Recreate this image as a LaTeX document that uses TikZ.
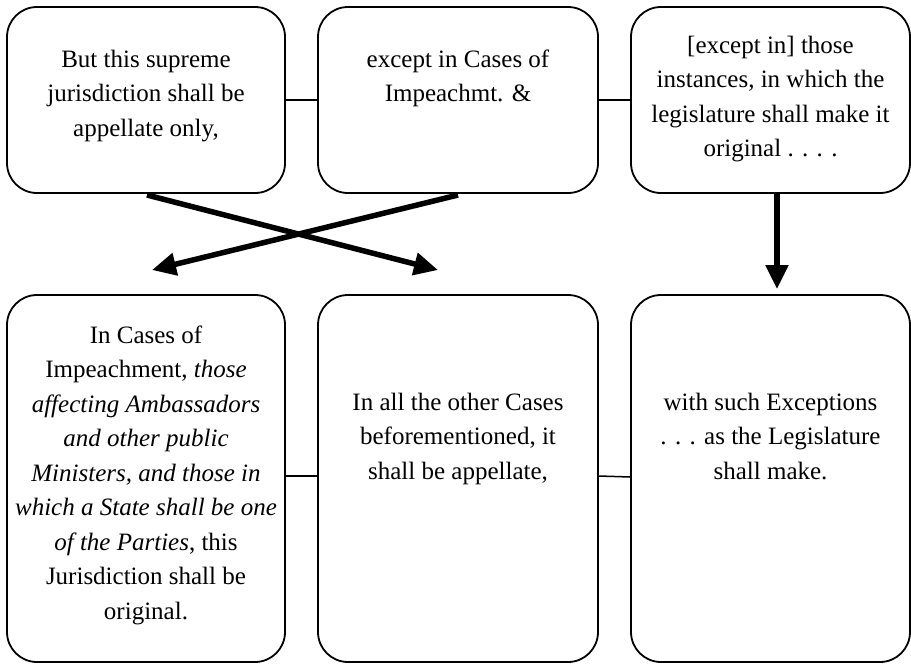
\documentclass[tikz,border=0pt]{standalone}
\usepackage{fontspec}
\setmainfont{Liberation Serif}
\usetikzlibrary{arrows.meta}
\tikzset{
  box/.style={draw=black, line width=1.8pt, rounded corners=30pt, fill=white, inner sep=0pt},
  txt/.style={align=center, anchor=north, inner sep=0pt, font=\fontsize{25}{34.5}\selectfont},
  link/.style={draw=black, line width=1.5pt},
  bigarrow/.style={draw=black, line width=5.5pt, -{Triangle[length=24pt,width=22pt]}}
}
\newcommand{\fs}{\rule{0pt}{20pt}}
\begin{document}
\begin{tikzpicture}[x=1pt,y=-1pt]
\useasboundingbox (0,0) rectangle (911,667);
% boxes
\node[box, minimum width=278pt, minimum height=186pt] (b1) at (146,100) {};
\node[box, minimum width=280pt, minimum height=186pt] (b2) at (458,100) {};
\node[box, minimum width=279pt, minimum height=186pt] (b3) at (770.5,100) {};
\node[box, minimum width=278pt, minimum height=367pt] (b4) at (146,478.5) {};
\node[box, minimum width=280pt, minimum height=367pt] (b5) at (458,478.5) {};
\node[box, minimum width=279pt, minimum height=367pt] (b6) at (770.5,478.5) {};
% texts
\node[txt] (t1) at (146,47) {\fs But this supreme\\jurisdiction shall be\\appellate only,};
\node[txt] (t2) at (458,47) {\fs except in Cases of\\Impeachmt. \&};
\node[txt] (t3) at (770.5,33) {\fs [except in] those\\instances, in which the\\legislature shall make it\\original . . . .};
\node[txt] (t4) at (146,323) {\fs In Cases of\\Impeachment, \textit{those}\\\textit{affecting Ambassadors}\\\textit{and other public}\\\textit{Ministers, and those in}\\\textit{which a State shall be one}\\\textit{of the Parties}, this\\Jurisdiction shall be\\original.};
\node[txt] (t5) at (458,390) {\fs In all the other Cases\\beforementioned, it\\shall be appellate,};
\node[txt] (t6) at (770.5,390) {\fs with such Exceptions\\. . . as the Legislature\\shall make.};
% connectors
\draw[link] (b1.east) -- (b2.west);
\draw[link] (b2.east) -- (b3.west);
\draw[link] ([yshift=2.5pt]b4.east) -- ([yshift=2.5pt]b5.west);
\draw[link] ([yshift=2.5pt]b5.east) -- ([yshift=1.5pt]b6.west);
% arrows
\coordinate (a1s) at (147,195);
\coordinate (a1e) at (438,270);
\coordinate (a2s) at (458,195);
\coordinate (a2e) at (152,270);
\coordinate (a3s) at (777,193);
\coordinate (a3e) at (777,289);
\draw[bigarrow] (a1s) -- (a1e);
\draw[bigarrow] (a2s) -- (a2e);
\draw[bigarrow] (a3s) -- (a3e);
\end{tikzpicture}
\end{document}
